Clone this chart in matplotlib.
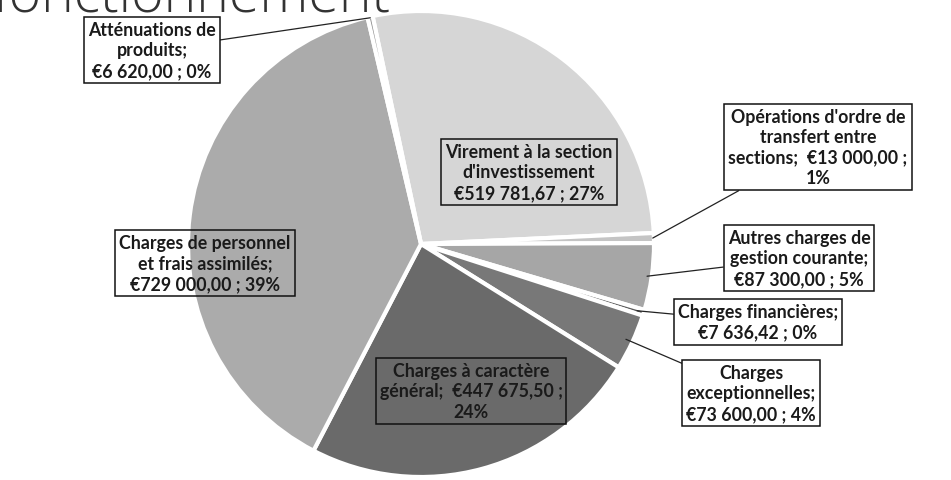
import numpy as np
import matplotlib
import matplotlib.pyplot as plt

matplotlib.use("Agg")

# data, clockwise from the top
categories = [
    "Virement à la section\nd'investissement",
    "Opérations d'ordre de\ntransfert entre\nsections;",
    "Autres charges de\ngestion courante;",
    "Charges financières;",
    "Charges\nexceptionnelles;",
    "Charges à caractère\ngénéral;",
    "Charges de personnel\net frais assimilés;",
    "Atténuations de\nproduits;",
]
amounts = [519781.67, 13000.00, 87300.00, 7636.42, 73600.00, 447675.50, 729000.00, 6620.00]
amount_labels = ["€519 781,67", "€13 000,00", "€87 300,00", "€7 636,42",
                 "€73 600,00", "€447 675,50", "€729 000,00", "€6 620,00"]
percent_labels = ["27%", "1%", "5%", "0%", "4%", "24%", "39%", "0%"]
# amount shares the category's last line for these two labels
inline_amount = [False, True, False, False, False, True, False, False]

colors = ["#d6d6d6", "#c4c4c4", "#a6a6a6", "#5c5c5c", "#787878", "#6a6a6a", "#ababab", "#8c8c8c"]

W, H = 951, 481
fig = plt.figure(figsize=(W / 100, H / 100), dpi=100)
fig.patch.set_facecolor("white")

# pie centre and radius in pixels
cx, cy, r = 421, 245, 233
ax = fig.add_axes([(cx - r) / W, (H - cy - r) / H, 2 * r / W, 2 * r / H])
wedges, _ = ax.pie(
    amounts,
    colors=colors,
    startangle=102,
    counterclock=False,
    wedgeprops=dict(edgecolor="white", linewidth=3),
)
ax.set_xlim(-1, 1)
ax.set_ylim(-1, 1)
ax.set_aspect("equal")
ax.axis("off")

# the title is cut off at the top of the scan
fig.text(-8 / W, (H - 12) / H, "fonctionnement", fontsize=40, family="Open Sans",
         fontweight="light", color="#333333", ha="left", va="baseline")

font = dict(family=["Lato", "DejaVu Sans"], fontweight="bold", fontsize=12.8,
            color="#1a1a1a", linespacing=1.25, ha="center", va="center")

# label box centres (pixels from top-left), leader line?, inside the pie?
label_pos = [
    (529, 173, False, True),
    (818, 148, True, False),
    (799, 259, True, False),
    (758, 323, True, False),
    (751, 394, True, False),
    (471, 392, False, True),
    (205, 264, False, True),
    (152, 51, True, False),
]
edge_frac = [None, 0.995, 0.98, 0.97, 0.97, None, None, 0.995]

for i, w in enumerate(wedges):
    lx, ly, leader, inside = label_pos[i]
    if inline_amount[i]:
        text = f"{categories[i]}  {amount_labels[i]} ;\n{percent_labels[i]}"
    else:
        text = f"{categories[i]}\n{amount_labels[i]} ; {percent_labels[i]}"
    bbox = dict(boxstyle="square,pad=0.22", facecolor="none" if inside else "white",
                edgecolor="#111111", linewidth=1.1)
    if leader:
        mid = np.deg2rad((w.theta1 + w.theta2) / 2)
        f = edge_frac[i]
        ax.annotate(
            text,
            xy=(f * np.cos(mid), f * np.sin(mid)),
            xytext=(lx, H - ly),
            textcoords="figure pixels",
            bbox=bbox,
            arrowprops=dict(arrowstyle="-", color="#222222", linewidth=0.9,
                            shrinkA=0, shrinkB=0),
            annotation_clip=False,
            **font,
        )
    else:
        fig.text(lx / W, (H - ly) / H, text, bbox=bbox, **font)

fig.savefig("out.png", dpi=100)
